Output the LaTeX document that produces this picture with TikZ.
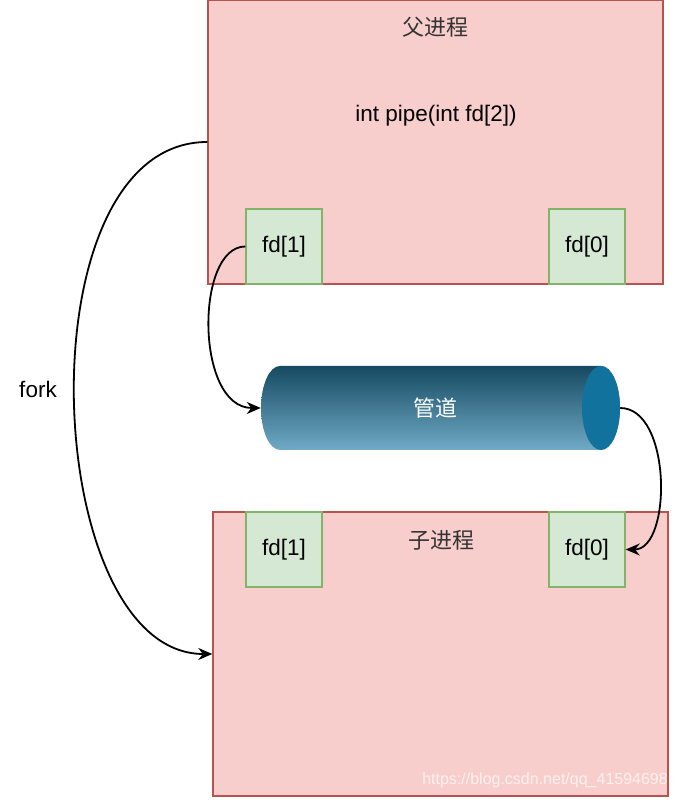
\documentclass[tikz,border=0pt]{standalone}
\usepackage{fontspec}
\setmainfont{Liberation Sans}
\newfontfamily\cjk{Noto Sans CJK SC}
\usetikzlibrary{arrows.meta}
\definecolor{procfill}{HTML}{F8CECC}
\definecolor{procline}{HTML}{B85450}
\definecolor{fdfill}{HTML}{D5E8D4}
\definecolor{fdline}{HTML}{82B366}
\definecolor{pipetop}{HTML}{164A62}
\definecolor{pipebot}{HTML}{70AAC6}
\definecolor{pipeend}{HTML}{12729E}
\definecolor{titlegray}{HTML}{333333}
\tikzset{
  proc/.style={draw=procline, fill=procfill, line width=1.4pt, minimum width=455pt, minimum height=284pt, inner sep=0pt},
  fdbox/.style={draw=fdline, fill=fdfill, line width=1.4pt, minimum width=76pt, minimum height=75pt, inner sep=0pt, font=\fontsize{22.5}{26}\selectfont},
  ttl/.style={font=\cjk\fontsize{22}{26}\selectfont, text=titlegray},
  lbl/.style={font=\fontsize{22.5}{26}\selectfont, text=black},
  conn/.style={line width=1.8pt, -{Stealth[length=14pt,width=12pt,inset=4.5pt]}}
}
\begin{document}
\begin{tikzpicture}[x=1pt,y=1pt]
\useasboundingbox (0,0) rectangle (678,800);
% parent process
\node[proc] (parent) at (435.5,658) {};
\node[ttl] (ptitle) at (435,773) {父进程};
\node[lbl] (pipefn) at (436,684) {int pipe(int fd[2])};
\node[fdbox] (pfd1) at (284,553.5) {fd[1]};
\node[fdbox] (pfd0) at (587,553.5) {fd[0]};
% child process
\node[proc] (child) at (440.5,146) {};
\node[ttl] (ctitle) at (441,260) {子进程};
\node[fdbox] (cfd1) at (284,250.5) {fd[1]};
\node[fdbox] (cfd0) at (587,250.5) {fd[0]};
% pipe cylinder
\shade[top color=pipetop, bottom color=pipebot]
  (280,434) -- (601,434) arc[start angle=90, end angle=-90, x radius=19, y radius=42]
  -- (280,350) arc[start angle=270, end angle=90, x radius=19, y radius=42] -- cycle;
\fill[pipeend] (601,392) ellipse[x radius=19, y radius=42];
\node[minimum width=359pt, minimum height=84pt, inner sep=0pt] (pipe) at (440.5,392) {};
\node[font=\cjk\fontsize{22}{26}\selectfont, text=white] (pipelbl) at (435,392) {管道};
% fork label
\node[lbl] (fork) at (38,411) {fork};
% connectors
\draw[conn] (parent.west) .. controls (20,658) and (40,146) .. (child.west);
\draw[conn] (pfd1.west) .. controls (195,553.5) and (195,392) .. (pipe.west);
\draw[conn] (pipe.east) .. controls (672,392) and (672,250.5) .. (cfd0.east);
% watermark
\node[anchor=east, font=\fontsize{16}{18}\selectfont, text=white, text opacity=0.7, inner sep=0pt] (wm) at (668,20) {https://blog.csdn.net/qq\_41594698};
\end{tikzpicture}
\end{document}
